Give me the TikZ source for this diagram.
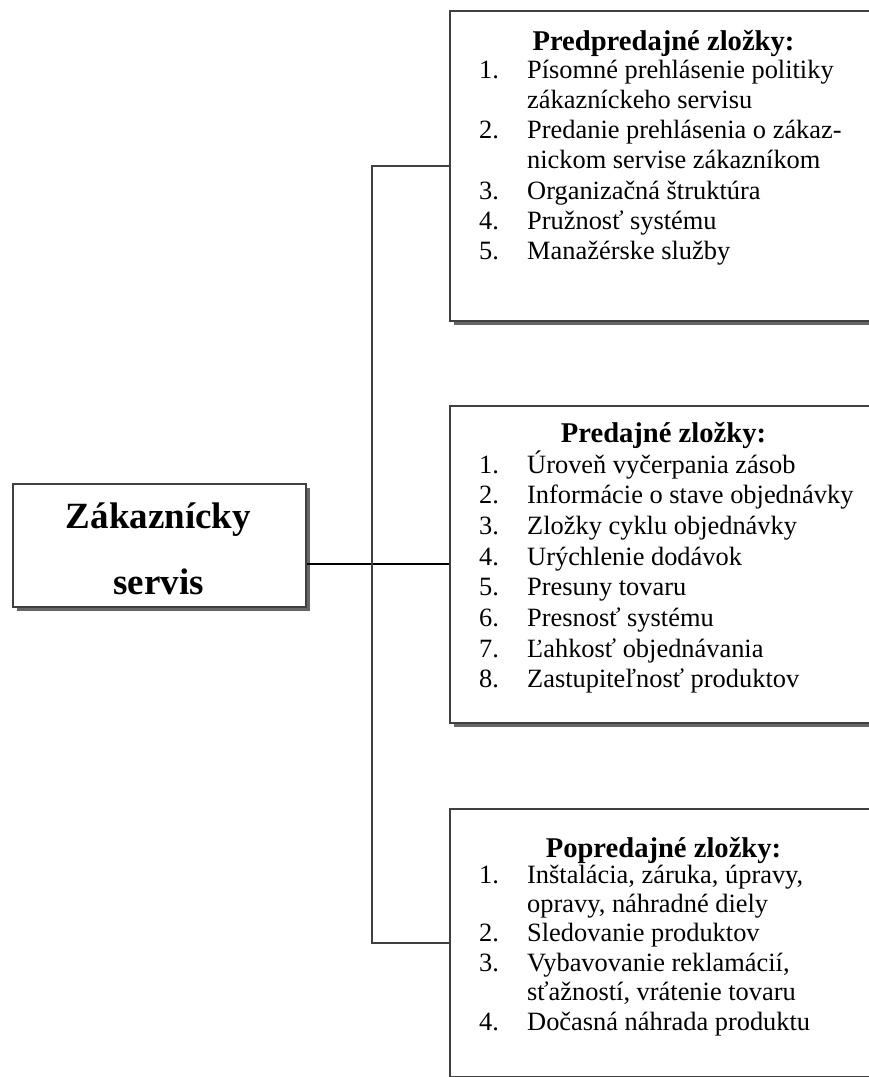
\documentclass[tikz,border=0pt]{standalone}
\usepackage{fontspec}
\setmainfont{Liberation Serif}
\usetikzlibrary{shadows}

\newcommand{\itemno}[1]{\makebox[48pt][l]{#1}}

\begin{document}
\begin{tikzpicture}[x=1pt,y=-1pt,
  panel/.style={draw=black!75,line width=1.5pt,fill=white,anchor=north west,
    drop shadow={shadow xshift=4pt,shadow yshift=-4pt,fill=black!60,opacity=1}},
  link/.style={draw=black,line width=1.6pt},
  head/.style={anchor=base,inner sep=0pt,font=\fontsize{28.6}{34}\selectfont\bfseries},
  bighead/.style={anchor=base,inner sep=0pt,font=\fontsize{37}{44}\selectfont\bfseries},
  item/.style={anchor=base west,inner sep=0pt,font=\fontsize{26.4}{30}\selectfont}]

  \useasboundingbox (0,0) rectangle (869,1077);
  \clip (0,0) rectangle (869,1077);

  \node[panel,minimum width=293pt,minimum height=123pt] (client) at (12,483) {};
  \node[panel,minimum width=470pt,minimum height=310pt] (pre) at (449,10) {};
  \node[panel,minimum width=470pt,minimum height=317pt] (sale) at (449,405) {};
  \node[panel,minimum width=470pt,minimum height=268pt] (post) at (449,808) {};

  \node[bighead] (client-a) at (158.5,528) {Zákaznícky};
  \node[bighead] (client-b) at (158.5,594) {servis};

  \node[head] (pre-head) at (663.5,50) {Predpredajné zložky:};
  \foreach \t [count=\i] in {{\itemno{1.}Písomné prehlásenie politiky},
      {\itemno{}zákazníckeho servisu},
      {\itemno{2.}Predanie prehlásenia o zákaz-},
      {\itemno{}nickom servise zákazníkom},
      {\itemno{3.}Organizačná štruktúra},
      {\itemno{4.}Pružnosť systému},
      {\itemno{5.}Manažérske služby}}
    \node[item] (pre-\i) at (479,{47.7+30.3*\i}) {\t};

  \node[head] (sale-head) at (663.5,442) {Predajné zložky:};
  \foreach \t [count=\i] in {{\itemno{1.}Úroveň vyčerpania zásob},
      {\itemno{2.}Informácie o stave objednávky},
      {\itemno{3.}Zložky cyklu objednávky},
      {\itemno{4.}Urýchlenie dodávok},
      {\itemno{5.}Presuny tovaru},
      {\itemno{6.}Presnosť systému},
      {\itemno{7.}Ľahkosť objednávania},
      {\itemno{8.}Zastupiteľnosť produktov}}
    \node[item] (sale-\i) at (479,{442.3+30.7*\i}) {\t};

  \node[head] (post-head) at (663.5,857) {Popredajné zložky:};
  \foreach \t [count=\i] in {{\itemno{1.}Inštalácia, záruka, úpravy,},
      {\itemno{}opravy, náhradné diely},
      {\itemno{2.}Sledovanie produktov},
      {\itemno{3.}Vybavovanie reklamácií,},
      {\itemno{}sťažností, vrátenie tovaru},
      {\itemno{4.}Dočasná náhrada produktu}}
    \node[item] (post-\i) at (479,{853.6+29.4*\i}) {\t};

  \coordinate (trunk) at (372,0);
  \draw[link] (sale.west -| client.east) -- (sale.west);
  \draw[link,draw=black!75] (pre.west) -- (pre.west -| trunk) -- (post.west -| trunk) -- (post.west);
\end{tikzpicture}
\end{document}
